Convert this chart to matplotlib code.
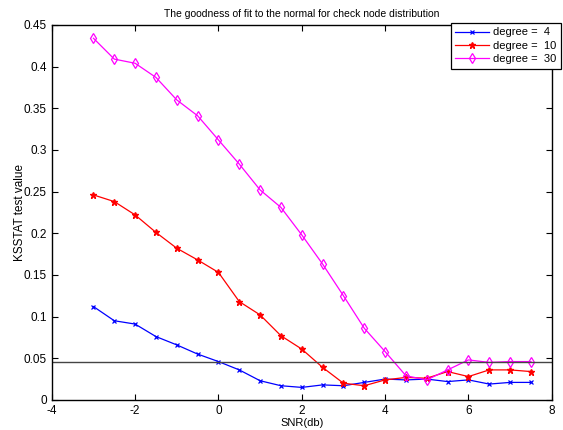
import matplotlib
matplotlib.use("Agg")
import matplotlib.pyplot as plt
import numpy as np

plt.rcParams['font.family'] = ['Liberation Sans', 'DejaVu Sans']

snr = [-3, -2.5, -2, -1.5, -1, -0.5, 0, 0.5, 1, 1.5, 2, 2.5, 3, 3.5, 4, 4.5, 5, 5.5, 6, 6.5, 7, 7.5]
deg4 = [0.112, 0.095, 0.091, 0.076, 0.066, 0.055, 0.046, 0.036, 0.023, 0.017, 0.015, 0.018, 0.017, 0.021,
        0.025, 0.024, 0.025, 0.022, 0.024, 0.019, 0.021, 0.021]
deg10 = [0.246, 0.238, 0.222, 0.201, 0.182, 0.168, 0.153, 0.118, 0.102, 0.077, 0.061, 0.039, 0.020, 0.017,
         0.024, 0.027, 0.026, 0.034, 0.028, 0.036, 0.036, 0.034]
deg30 = [0.434, 0.409, 0.404, 0.387, 0.360, 0.341, 0.312, 0.283, 0.252, 0.231, 0.198, 0.163, 0.125, 0.086,
         0.058, 0.029, 0.024, 0.036, 0.048, 0.045, 0.046, 0.046]
threshold = 0.045
xtick_labels = ['-4', '-2', '0', '2', '4', '6', '8']
ytick_labels = ['0', '0.05', '0.1', '0.15', '0.2', '0.25', '0.3', '0.35', '0.4', '0.45']

fig = plt.figure(figsize=(5.63, 4.30), dpi=100)
ax = fig.add_axes([0.092, 0.07, 0.888, 0.872])

ax.plot(snr, deg4, color='blue', marker='x', markersize=3.5, markeredgewidth=0.9, linewidth=0.9,
        label='degree =  4')
ax.plot(snr, deg10, color='red', marker='*', markersize=4.5, linewidth=0.9, label='degree =  10')
ax.plot(snr, deg30, color='magenta', marker='d', markersize=5, markerfacecolor='none',
        markeredgewidth=0.9, linewidth=0.9, label='degree =  30')
ax.axhline(threshold, color='#444444', linewidth=1.0)

ax.set_xlim(-4, 8)
ax.set_ylim(0, 0.45)
ax.set_xticks(np.arange(-4, 9, 2))
ax.set_yticks(np.arange(0, 0.46, 0.05))
ax.set_yticklabels(ytick_labels)
ax.set_xticklabels(xtick_labels)
ax.tick_params(direction='in', top=True, right=True, labelsize=8.5, length=4, width=0.8)
ax.tick_params(axis='x', pad=4)
ax.tick_params(axis='y', pad=3.5)
for sp in ax.spines.values():
    sp.set_linewidth(1.0)
ax.set_xlabel('SNR(db)', fontsize=8, labelpad=0.5)
ax.set_ylabel('KSSTAT test value', fontsize=8.5)
ax.yaxis.set_label_coords(-0.052, 0.5)
ax.set_title('The goodness of fit to the normal for check node distribution', fontsize=7.5, pad=6)

leg = ax.legend(loc='upper left', bbox_to_anchor=(0.801, 0.9465), bbox_transform=fig.transFigure,
                fontsize=8, fancybox=False, framealpha=1, edgecolor='black', borderpad=0.4,
                labelspacing=0.3, handlelength=3.0, handletextpad=0.4, borderaxespad=0)
leg.get_frame().set_linewidth(0.9)

fig.savefig('out.png', dpi=100)
